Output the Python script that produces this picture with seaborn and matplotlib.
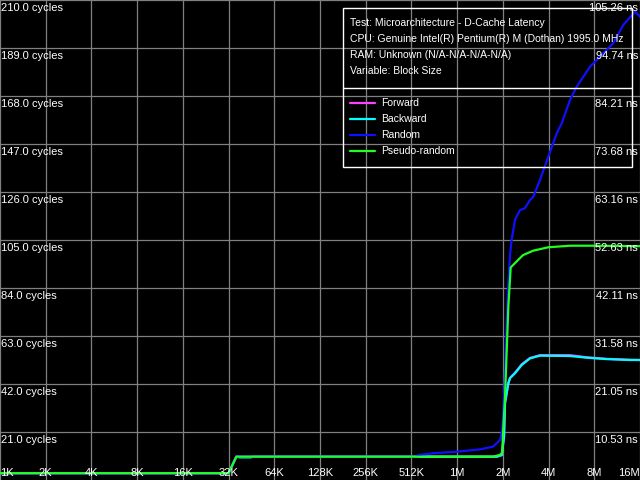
import numpy as np
import pandas as pd
import matplotlib
matplotlib.use('Agg')
import matplotlib.pyplot as plt
import matplotlib.transforms as mtransforms
from matplotlib.patches import Rectangle
from matplotlib.lines import Line2D
import seaborn as sns

# block size (KB) and latency (cycles)
fwd_kb = [1, 32, 36, 1865, 2013, 2084, 2116, 2226, 2283, 2462, 2724, 3091, 3595, 5672, 7302, 9880, 14070, 16384]
fwd_cyc = [3.0, 3.0, 10.2, 10.2, 10.9, 18.9, 33.7, 42.4, 44.6, 46.9, 50.6, 53.4, 54.6, 54.6, 53.7, 53.0, 52.6, 52.5]

bwd_kb = [1, 32, 36, 38, 45, 46, 1865, 2013, 2084, 2116, 2226, 2283, 2462, 2724, 3091, 3595, 5672, 7302, 9880, 14070, 16384]
bwd_cyc = [3.0, 3.0, 10.2, 9.9, 9.9, 10.2, 10.2, 10.9, 18.9, 33.7, 42.4, 44.6, 46.7, 50.3, 53.2, 54.4, 54.25, 53.5, 52.9, 52.5, 52.5]

rnd_kb = [1, 32, 36, 560, 566, 710, 1023, 1448, 1764, 1962, 2030, 2084, 2150, 2212, 2283, 2339, 2462, 2656,
          2858, 3091, 3250, 3595, 4079, 4637, 5001, 5672, 6277, 7675, 8932, 10931, 12724, 15187, 16384]
rnd_cyc = [3.0, 3.0, 10.2, 10.2, 10.9, 11.7, 12.4, 13.4, 14.6, 17.5, 21.9, 35.0, 61.0, 83.0, 98.4, 105.0, 113.8, 118.1,
           118.9, 122.5, 123.9, 131.3, 141.4, 151.7, 156.1, 166.3, 172.1, 180.8, 185.2, 191.1, 199.1, 204.9, 202.7]

psr_kb = [1, 32, 36, 1764, 1960, 2030, 2050, 2116, 2226, 2307, 2780, 3236, 4064, 5670, 7700, 16384]
psr_cyc = [3.0, 3.0, 10.2, 10.2, 11.0, 12.0, 20.0, 36.4, 75.8, 93.0, 98.4, 100.3, 101.8, 102.5, 102.5, 102.3]

series = ['Forward', 'Backward', 'Random', 'Pseudo-random']
colors = ['#ff40ff', '#00ffff', '#1010ff', '#20ff20']

x_ticks = [1, 2, 4, 8, 16, 32, 64, 128, 256, 512, 1024, 2048, 4096, 8192, 16384]
x_labels = ['1K', '2K', '4K', '8K', '16K', '32K', '64K', '128K', '256K', '512K', '1M', '2M', '4M', '8M', '16M']
y_ticks = [21, 42, 63, 84, 105, 126, 147, 168, 189, 210]
cpu_mhz = 1995.0

info_lines = ['Test: Microarchitecture - D-Cache Latency',
              'CPU: Genuine Intel(R) Pentium(R) M (Dothan) 1995.0 MHz',
              'RAM: Unknown (N/A-N/A-N/A-N/A)',
              'Variable: Block Size']

df = pd.concat([
    pd.DataFrame({'kb': fwd_kb, 'cycles': fwd_cyc, 'test': 'Forward'}),
    pd.DataFrame({'kb': bwd_kb, 'cycles': bwd_cyc, 'test': 'Backward'}),
    pd.DataFrame({'kb': rnd_kb, 'cycles': rnd_cyc, 'test': 'Random'}),
    pd.DataFrame({'kb': psr_kb, 'cycles': psr_cyc, 'test': 'Pseudo-random'}),
], ignore_index=True)

sns.set_style('dark')
plt.rcParams['font.family'] = ['Liberation Sans', 'DejaVu Sans']
FS = 8
FS_BOX = 7.5

fig = plt.figure(figsize=(6.4, 4.8), dpi=100, facecolor='black')
ax = fig.add_axes([0, 0, 1, 1])
ax.set_facecolor('black')
ax.set_xscale('log', base=2)

for s, c in zip(series, colors):
    sns.lineplot(data=df[df['test'] == s], x='kb', y='cycles', color=c, lw=1.6,
                 sort=False, estimator=None, ax=ax, zorder=3)

ax.set_xlim(1, 16384)
ax.set_ylim(0, 210)
for s in ax.spines.values():
    s.set_visible(False)
ax.set_xticks(x_ticks)
ax.set_yticks(y_ticks)
ax.minorticks_off()
ax.tick_params(length=0, labelbottom=False, labelleft=False)
ax.set_xlabel('')
ax.set_ylabel('')
ax.grid(True, color='#808080', lw=0.9, zorder=1)
ax.set_axisbelow(True)

# axis labels drawn inside the plot area
ltr = mtransforms.offset_copy(ax.get_yaxis_transform(), fig=fig, x=1, y=-8, units='dots')
rtr = mtransforms.offset_copy(ax.get_yaxis_transform(), fig=fig, x=-2, y=-8, units='dots')
for v in y_ticks:
    ax.text(0, v, f'{v:.1f} cycles', transform=ltr, color='white', fontsize=FS, ha='left', va='center', zorder=5)
    ax.text(1, v, f'{v / (cpu_mhz / 1000):.2f} ns', transform=rtr, color='white', fontsize=FS,
            ha='right', va='center', zorder=5)

btr = mtransforms.offset_copy(ax.get_xaxis_transform(), fig=fig, x=0, y=7, units='dots')
for i, (v, lab) in enumerate(zip(x_ticks, x_labels)):
    ha = 'left' if i == 0 else ('right' if i == len(x_ticks) - 1 else 'center')
    ax.text(v, 0, lab, transform=btr, color='white', fontsize=FS, ha=ha, va='center', zorder=5)


def px(x, y):
    return x / 640, 1 - y / 480


# info / legend box
x0, y0 = px(343, 167)
x1, y1 = px(632, 8)
fig.add_artist(Rectangle((x0, y0), x1 - x0, y1 - y0, transform=fig.transFigure,
                         fill=False, edgecolor='white', lw=1.0, zorder=6))
fig.add_artist(Line2D([x0, x1], [px(0, 88)[1]] * 2, transform=fig.transFigure, color='white', lw=1.0))
for i, t in enumerate(info_lines):
    fig.text(*px(350, 23 + 16 * i), t, color='white', fontsize=FS_BOX, ha='left', va='center')
for i, (s, c) in enumerate(zip(series, colors)):
    yy = px(0, 103 + 16 * i)[1]
    fig.add_artist(Line2D([px(350, 0)[0], px(375, 0)[0]], [yy, yy], transform=fig.transFigure, color=c, lw=1.6))
    fig.text(px(381, 0)[0], yy, s, color='white', fontsize=FS_BOX, ha='left', va='center')

fig.savefig('out.png', dpi=100, facecolor='black')
